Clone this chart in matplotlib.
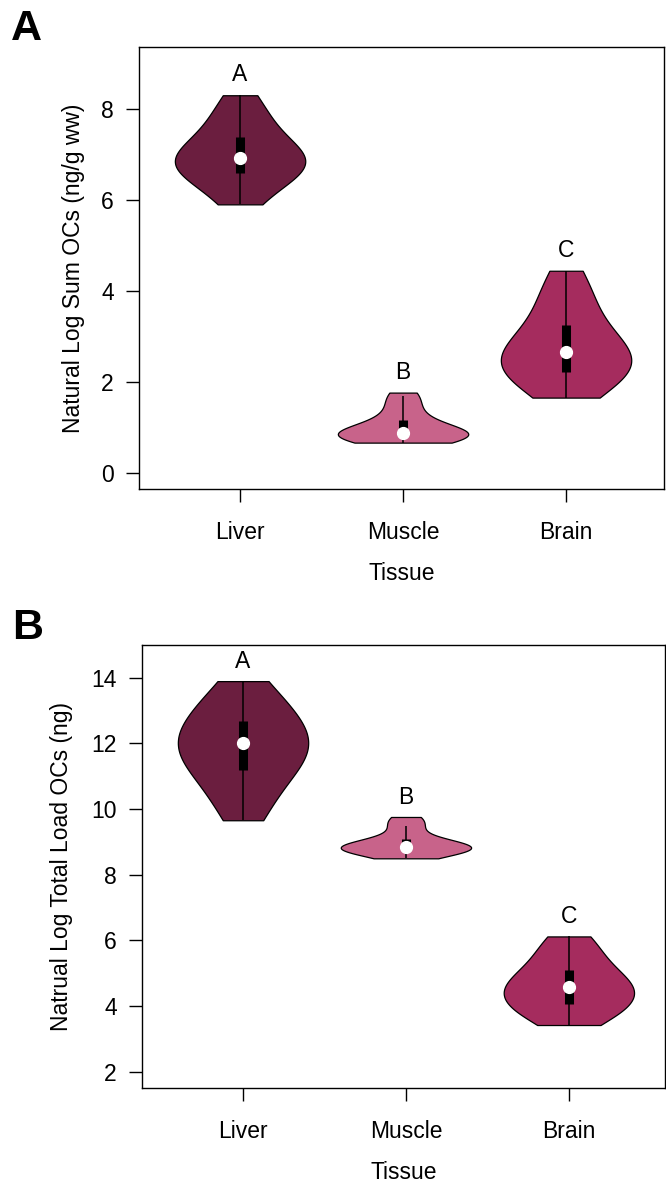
import numpy as np
import matplotlib.pyplot as plt

plt.rcParams['font.family'] = ['Liberation Sans', 'DejaVu Sans']

tissues = ['Liver', 'Muscle', 'Brain']
colors = ['#6B1E3F', '#C8638A', '#A52C5E']
letters = ['A', 'B', 'C']

# panel A: natural log of summed OCs, ng/g wet weight
sum_liver = [5.90, 6.20, 6.45, 6.55, 6.65, 6.75, 6.85, 6.93, 7.00, 7.10, 7.30, 7.46, 7.70, 7.95, 8.30]
sum_muscle = [0.66, 0.70, 0.74, 0.79, 0.824, 0.85, 0.87, 0.88, 0.90, 0.95, 1.10, 1.22, 1.40, 1.62, 1.76]
sum_brain = [1.65, 1.90, 2.10, 2.20, 2.24, 2.40, 2.55, 2.66, 2.75, 2.90, 3.10, 3.40, 3.70, 4.00, 4.44]

# panel B: natural log of total OC load, ng
load_liver = [9.66, 10.2, 10.7, 11.1, 11.28, 11.5, 11.8, 12.0, 12.1, 12.3, 12.55, 12.83, 13.1, 13.4, 13.9]
load_muscle = [8.50, 8.62, 8.70, 8.78, 8.82, 8.83, 8.84, 8.84, 8.86, 8.92, 9.00, 9.16, 9.45, 9.62, 9.76]
load_brain = [3.42, 3.70, 3.85, 4.00, 4.10, 4.30, 4.45, 4.57, 4.65, 4.80, 5.00, 5.22, 5.50, 5.85, 6.12]


def vioplot(ax, groups, offset):
    n = len(groups[0])
    pos = np.arange(1, len(groups) + 1)
    # bandwidth like R's hnorm
    parts = ax.violinplot(groups, positions=pos, widths=0.8, showextrema=False,
                          bw_method=(4 / (3 * n)) ** 0.2)
    for body, c in zip(parts['bodies'], colors):
        body.set_facecolor(c)
        body.set_edgecolor('black')
        body.set_linewidth(0.9)
        body.set_alpha(1)
    for x, g, lab in zip(pos, groups, letters):
        g = np.asarray(g)
        q1, med, q3 = np.percentile(g, [25, 50, 75])
        iqr = q3 - q1
        lo = max(g.min(), q1 - 1.5 * iqr)
        hi = min(g.max(), q3 + 1.5 * iqr)
        ax.vlines(x, lo, hi, color='black', lw=1.1)
        ax.vlines(x, q1, q3, color='black', lw=6.5)
        ax.plot(x, med, 'o', color='white', ms=8.5, mec='white')
        ax.text(x, g.max() + offset, lab, ha='center', va='center', fontsize=16.5)
    ax.set_xticks(pos)
    ax.set_xticklabels(tissues)
    ax.tick_params(axis='both', direction='out', length=9.5, width=1, labelsize=16.5)
    ax.tick_params(axis='x', pad=13.5)
    ax.tick_params(axis='y', pad=9)
    for s in ax.spines.values():
        s.set_linewidth(1)


fig = plt.figure(figsize=(6.66, 11.82), dpi=100)
axA = fig.add_axes([0.2092, 0.5863, 0.7878, 0.3739])
axB = fig.add_axes([0.2137, 0.0795, 0.7848, 0.3748])

vioplot(axA, [sum_liver, sum_muscle, sum_brain], 0.45)
axA.set_xlim(0.382, 3.601)
axA.set_ylim(-0.36, 9.36)
axA.set_yticks([0, 2, 4, 6, 8])
axA.set_ylabel('Natural Log Sum OCs (ng/g ww)', fontsize=16.5, va='center')
axA.yaxis.set_label_coords(-0.126, 0.5)
axA.set_xlabel('Tissue', fontsize=16.5, va='center')
axA.xaxis.set_label_coords(0.5, -0.192)

vioplot(axB, [load_liver, load_muscle, load_brain], 0.6)
axB.set_xlim(0.382, 3.59)
axB.set_ylim(1.5, 15.0)
axB.set_yticks([2, 4, 6, 8, 10, 12, 14])
axB.set_ylabel('Natrual Log Total Load OCs (ng)', fontsize=16.5, va='center')
axB.yaxis.set_label_coords(-0.154, 0.5)
axB.set_xlabel('Tissue', fontsize=16.5, va='center')
axB.xaxis.set_label_coords(0.5, -0.19)

fig.text(26 / 666, 1 - 29 / 1182, 'A', fontsize=31, fontweight='bold', ha='center', va='center')
fig.text(28 / 666, 1 - 628 / 1182, 'B', fontsize=31, fontweight='bold', ha='center', va='center')

fig.savefig('out.png', dpi=100)
